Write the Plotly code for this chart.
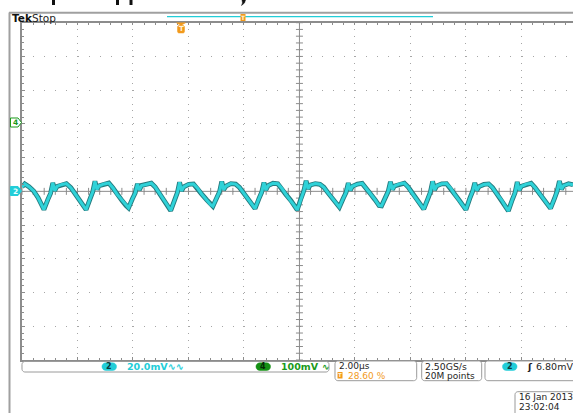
import plotly.graph_objects as go
import numpy as np

# ---------------- data ----------------
# channel 2 trace: time in microseconds (2.00 us/div), voltage in mV (20 mV/div)
time_us = [
    0.00, 0.10, 0.25, 0.42, 0.58, 0.70,
    0.79, 0.93, 1.03, 1.11, 1.18, 1.26, 1.44, 1.60, 1.76, 1.91, 2.08, 2.22,
    2.31, 2.45, 2.55, 2.63, 2.70, 2.78, 2.96, 3.13, 3.28, 3.43, 3.61, 3.75,
    3.84, 3.98, 4.08, 4.16, 4.23, 4.31, 4.49, 4.66, 4.80, 4.95, 5.13, 5.27,
    5.36, 5.50, 5.60, 5.68, 5.75, 5.83, 6.01, 6.18, 6.32, 6.47, 6.65, 6.79,
    6.88, 7.02, 7.12, 7.20, 7.27, 7.35, 7.53, 7.70, 7.84, 7.99, 8.17, 8.31,
    8.40, 8.54, 8.64, 8.72, 8.79, 8.87, 9.05, 9.22, 9.36, 9.51, 9.69, 9.83,
    9.92, 10.06, 10.16, 10.24, 10.31, 10.39, 10.57, 10.74, 10.88, 11.03, 11.21, 11.35,
    11.44, 11.58, 11.68, 11.76, 11.83, 11.91, 12.09, 12.26, 12.40, 12.55, 12.73, 12.87,
    12.96, 13.10, 13.20, 13.28, 13.35, 13.43, 13.61, 13.78, 13.92, 14.07, 14.25, 14.39,
    14.48, 14.62, 14.72, 14.80, 14.87, 14.95, 15.13, 15.30, 15.44, 15.59, 15.77, 15.91,
    16.00, 16.14, 16.24, 16.32, 16.39, 16.47, 16.65, 16.82, 16.96, 17.11, 17.29, 17.43,
    17.53, 17.67, 17.77, 17.85, 17.92, 18.00, 18.18, 18.35, 18.49, 18.64, 18.82, 18.96,
    19.05, 19.19, 19.29, 19.37, 19.44, 19.52, 19.70, 19.86,
]
ch2_mV = [
    2.6, 4.4, 2.8, 0.2, -3.8, -7.6,
    -10.8, -4.9, -1.2, 5.0, 0.4, 2.9, 4.1, 4.6, 2.2, -1.4, -5.2, -8.6,
    -10.9, -4.6, -0.3, 6.0, 1.2, 3.3, 4.4, 4.9, 2.0, -1.8, -5.6, -8.4,
    -9.8, -4.4, -1.0, 4.4, 0.9, 3.5, 4.0, 4.8, 2.6, -1.0, -5.0, -9.0,
    -11.4, -5.2, -0.8, 5.4, 0.3, 2.7, 4.2, 4.4, 2.0, -1.5, -4.9, -7.8,
    -8.8, -3.8, -0.2, 5.8, 1.0, 3.1, 4.6, 4.3, 2.3, -1.1, -5.3, -8.2,
    -10.2, -4.3, -0.5, 5.2, 0.8, 3.4, 4.8, 4.5, 1.9, -1.8, -5.4, -8.8,
    -11.0, -4.0, 0.4, 6.3, 1.5, 3.8, 4.6, 4.2, 2.4, -0.9, -4.6, -7.6,
    -9.4, -4.1, -0.7, 4.9, 0.6, 3.0, 4.3, 4.7, 2.1, -1.3, -5.1, -8.4,
    -8.6, -3.6, 0.0, 5.6, 1.1, 3.2, 4.4, 4.9, 2.5, -1.2, -5.2, -8.9,
    -10.6, -4.7, -0.4, 5.9, 0.9, 3.3, 4.5, 4.6, 2.0, -1.6, -5.5, -8.7,
    -10.9, -4.2, -0.1, 5.1, 0.5, 2.8, 4.1, 4.4, 2.2, -1.4, -5.3, -9.1,
    -11.6, -5.0, -0.9, 5.5, 0.7, 3.0, 4.3, 4.8, 2.3, -1.1, -4.9, -8.3,
    -10.1, -4.4, 0.2, 6.1, 1.3, 3.4, 4.5, 3.9,
]

x_range_us = [0, 19.86]
y_range_mV = [-100, 100]
time_per_div = 2.0
volt_per_div = 20.0

# readout texts
header_bold = "Tek"
header_state = "Stop"
ch2_label = "2"
ch2_scale = "20.0mV"
ch4_label = "4"
ch4_scale = "100mV"
timebase = "2.00µs"
trig_pos = "28.60 %"
sample_rate = "2.50GS/s"
record_len = "20M points"
trig_level = "6.80mV"
date_text = "16 Jan 2013"
time_text = "23:02:04"

# ---------------- layout geometry (pixels) ----------------
W, H = 573, 413
GX0, GX1 = 22.0, 573.0
GY0, GY1 = 22.7, 360.0

GRID = "#a6a6a6"
FRAME = "#8c8c8c"
CYAN = "#22cdd8"
GREEN = "#1a9a1a"
ORANGE = "#f29a1c"
TXT = "#1e1e1e"
FONT = "DejaVu Sans"


def px(x):
    return x / W


def py(y):
    return 1 - y / H


fig = go.Figure()

# center crosshair tick marks (graticule decoration)
minor_x = np.arange(0, 20.01, time_per_div / 5)
minor_y = np.arange(-100, 100.1, volt_per_div / 5)
fig.add_trace(go.Scatter(x=minor_x, y=np.zeros_like(minor_x), mode="markers",
                         marker=dict(symbol="line-ns-open", size=5, color=FRAME,
                                     line=dict(color=FRAME, width=1)),
                         hoverinfo="skip", showlegend=False, cliponaxis=False))
fig.add_trace(go.Scatter(x=np.full_like(minor_y, 10.0), y=minor_y, mode="markers",
                         marker=dict(symbol="line-ew-open", size=5, color=FRAME,
                                     line=dict(color=FRAME, width=1)),
                         hoverinfo="skip", showlegend=False, cliponaxis=False))

# channel 2 waveform: dark outline + cyan core
fig.add_trace(go.Scatter(x=time_us, y=ch2_mV, mode="lines",
                         line=dict(color="#257a7e", width=4.8), hoverinfo="skip", showlegend=False))
fig.add_trace(go.Scatter(x=time_us, y=ch2_mV, mode="lines",
                         line=dict(color="#2fd2d8", width=3.0), hoverinfo="skip", showlegend=False))

shapes = []
annotations = []


def pline(x0, y0, x1, y1, color, width=1):
    shapes.append(dict(type="line", xref="paper", yref="paper", x0=px(x0), y0=py(y0),
                       x1=px(x1), y1=py(y1), line=dict(color=color, width=width), layer="above"))


def prect(x0, y0, x1, y1, fill):
    shapes.append(dict(type="rect", xref="paper", yref="paper", x0=px(x0), x1=px(x1),
                       y0=py(y0), y1=py(y1), fillcolor=fill, line=dict(width=0), layer="above"))


def poly(points, fill, line_color, width=1):
    path = "M" + " L".join(f"{px(a):.5f},{py(b):.5f}" for a, b in points) + " Z"
    shapes.append(dict(type="path", xref="paper", yref="paper", path=path, fillcolor=fill,
                       line=dict(color=line_color, width=width), layer="above"))


def rrect(x0, y0, x1, y1, r, fill, line_color, width=1):
    pts = []
    corners = [(x1 - r, y0 + r, -90), (x1 - r, y1 - r, 0), (x0 + r, y1 - r, 90), (x0 + r, y0 + r, 180)]
    for cx, cy, a0 in corners:
        for k in range(7):
            a = np.radians(a0 + 15 * k)
            pts.append((cx + r * np.cos(a), cy + r * np.sin(a)))
    poly(pts, fill, line_color, width)


def ptext(x, y, text, color=TXT, size=9.5, anchor="left", bold=False):
    if bold:
        text = f"<b>{text}</b>"
    annotations.append(dict(xref="paper", yref="paper", x=px(x), y=py(y), text=text,
                            showarrow=False, xanchor=anchor, yanchor="middle", borderpad=0,
                            font=dict(family=FONT, size=size, color=color)))


# center crosshair lines
shapes.append(dict(type="line", xref="x", yref="y", x0=10, x1=10, y0=-100, y1=100,
                   line=dict(color=FRAME, width=1), layer="between"))
shapes.append(dict(type="line", xref="x", yref="y", x0=0, x1=20, y0=0, y1=0,
                   line=dict(color=FRAME, width=1), layer="between"))

# outer screen border
pline(9.5, 12.5, 9.5, 413, "#a0a0a0", 2)
pline(9, 12.7, 573, 12.7, "#a0a0a0", 2)

# cropped title fragments at the very top
for xa in (52, 116, 129.5):
    prect(xa, 0, xa + 3, 5, "#111111")
poly([(242, 0), (245.5, 0), (244.5, 3), (241.5, 5.5), (242.5, 3)], "#111111", "#111111", 0.5)

# header: Tek Stop + record bar
ptext(10.5, 17.8, header_bold, color="#111111", size=10.5, bold=True)
ptext(31, 17.8, header_state, color="#222222", size=10.5)
pline(167, 16.7, 433, 16.7, CYAN, 1.2)
prect(240.5, 14, 245.5, 21, ORANGE)
ptext(243, 17.6, "T", color="#fff2d8", size=6, anchor="center", bold=True)

# trigger position marker inside graticule
poly([(176.5, 22.8), (185.5, 22.8), (181, 25.5)], ORANGE, ORANGE, 0.5)
rrect(177.5, 25.5, 184.5, 33, 1.5, ORANGE, ORANGE, 0.5)
ptext(181, 29.5, "T", color="#fff2d8", size=7, anchor="center", bold=True)

# channel ground markers on the left
poly([(10.5, 118), (18, 118), (21.5, 122.5), (18, 127), (10.5, 127)], "white", GREEN, 1)
ptext(15, 122.6, ch4_label, color=GREEN, size=7.5, anchor="center", bold=True)
poly([(10.5, 186.5), (18, 186.5), (21.5, 191), (18, 195.5), (10.5, 195.5)], CYAN, CYAN, 1)
ptext(15, 191.1, ch2_label, color="#e8ffff", size=7.5, anchor="center", bold=True)

# bottom readout boxes
BOX = "#9a9a9a"
rrect(22, 361.5, 329, 372, 3, "white", BOX, 1)
rrect(102, 362.8, 116.5, 370.5, 3.8, CYAN, CYAN, 0.5)
ptext(109.3, 366.8, ch2_label, color="#0b3a3e", size=8, anchor="center", bold=True)
ptext(125.5, 366.8, ch2_scale + "∿∿", color=CYAN, size=9.5, bold=True)
rrect(256, 362.8, 270.5, 370.5, 3.8, "#159015", "#159015", 0.5)
ptext(263.3, 366.8, ch4_label, color="#052805", size=8, anchor="center", bold=True)
ptext(279.5, 366.8, ch4_scale, color=GREEN, size=9.5, bold=True)
ptext(321, 366.8, "∿", color=GREEN, size=9, bold=True)

rrect(335, 361, 416.7, 380.7, 3, "white", BOX, 1)
ptext(337.5, 366.0, timebase, size=9)
prect(337.5, 372, 342.5, 378.5, ORANGE)
ptext(340, 375.4, "T", color="#fff2d8", size=5.5, anchor="center", bold=True)
ptext(346.5, 375.6, trig_pos, color=ORANGE, size=9)

rrect(421.7, 361, 481.7, 380.7, 3, "white", BOX, 1)
ptext(423.5, 366.0, sample_rate, size=9.3)
ptext(423.5, 375.6, record_len, size=9)

rrect(485, 361, 590, 380.7, 3, "white", BOX, 1)
rrect(502.5, 362.8, 517, 370.5, 3.8, CYAN, CYAN, 0.5)
ptext(509.8, 366.8, ch2_label, color="#0b3a3e", size=8, anchor="center", bold=True)
ptext(525.5, 366.8, "ʃ", size=9.5, bold=True)
ptext(534.5, 366.8, trig_level, size=9.5)

rrect(515, 391.7, 590, 420, 3, "white", BOX, 1)
ptext(517.5, 397.0, date_text, size=9)
ptext(517.5, 406.6, time_text, size=9)

fig.update_layout(
    width=W, height=H,
    margin=dict(l=0, r=0, t=0, b=0, pad=0),
    paper_bgcolor="white", plot_bgcolor="white",
    showlegend=False,
    shapes=shapes, annotations=annotations,
    xaxis=dict(domain=[GX0 / W, GX1 / W], range=x_range_us, anchor="y",
               showgrid=True, gridcolor=GRID, gridwidth=1, griddash="1px,5.75px",
               dtick=time_per_div, tick0=0, zeroline=False,
               showline=True, linecolor=FRAME, linewidth=1.5, mirror="ticks",
               ticks="inside", ticklen=3, tickcolor=FRAME, tickwidth=1,
               minor=dict(ticks="inside", dtick=time_per_div / 5, ticklen=2.5,
                          tickcolor=FRAME, showgrid=False),
               showticklabels=False, fixedrange=True),
    yaxis=dict(domain=[(H - GY1) / H, (H - GY0) / H], range=y_range_mV, anchor="x",
               showgrid=True, gridcolor=GRID, gridwidth=1, griddash="1px,10.1px",
               dtick=volt_per_div, tick0=0, zeroline=False,
               showline=True, linecolor=FRAME, linewidth=1.5,
               ticks="inside", ticklen=3, tickcolor=FRAME, tickwidth=1,
               minor=dict(ticks="inside", dtick=volt_per_div / 5, ticklen=2.5,
                          tickcolor=FRAME, showgrid=False),
               showticklabels=False, fixedrange=True),
)

fig.write_html(
    "out.html",
    config={"displayModeBar": False},
    post_script="document.body.style.margin='0';document.body.style.overflow='hidden';",
)
